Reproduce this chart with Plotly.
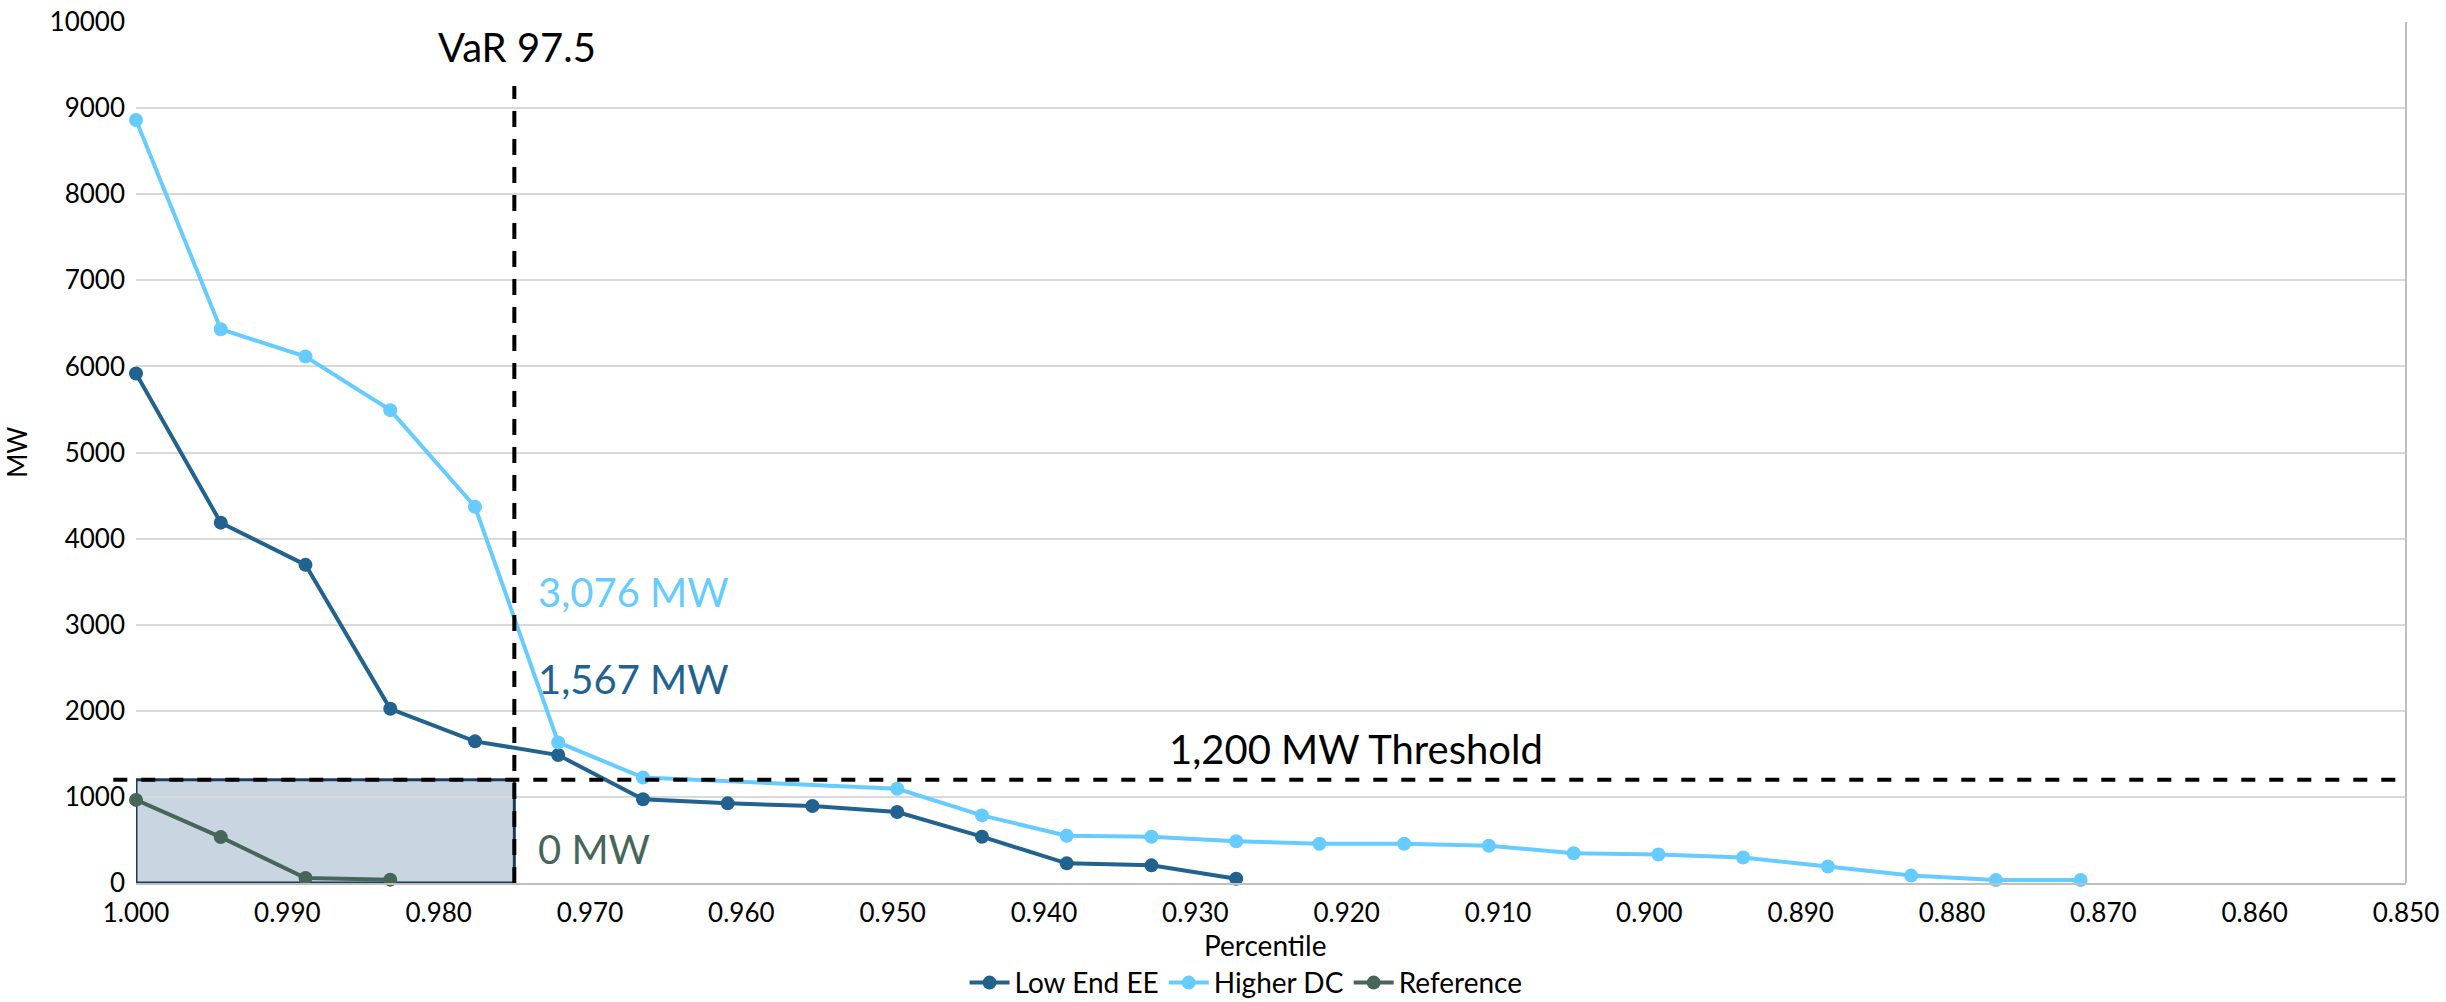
import plotly.graph_objects as go

# Percentile positions of each scenario point (descending)
pct_low_end = [1.0000, 0.9944, 0.9888, 0.9832, 0.9776, 0.9721, 0.9665, 0.9609,
               0.9553, 0.9497, 0.9441, 0.9385, 0.9329, 0.9273]
pct_higher_dc = [1.0000, 0.9944, 0.9888, 0.9832, 0.9776, 0.9721, 0.9665,
                 0.9497, 0.9441, 0.9385, 0.9329, 0.9273, 0.9218, 0.9162,
                 0.9106, 0.9050, 0.8994, 0.8938, 0.8882, 0.8827, 0.8771, 0.8715]
pct_reference = [1.0000, 0.9944, 0.9888, 0.9832]

# Shortfall in MW
mw_low_end = [5917, 4185, 3695, 2023, 1645, 1486, 972, 925, 894, 824, 538, 228, 205, 50]
mw_higher_dc = [8862, 6432, 6115, 5492, 4370, 1633, 1225, 1095, 785, 549, 538, 485,
                455, 455, 432, 346, 331, 296, 191, 86, 35, 35]
mw_reference = [965, 533, 58, 39]

series_names = ["Low End EE", "Higher DC", "Reference"]
series_colors = ["#22628F", "#66CCFF", "#46665A"]

var_level = 0.975
threshold_mw = 1200
# Value of each scenario at the VaR level
var_labels = {"Higher DC": "3,076 MW", "Low End EE": "1,567 MW", "Reference": "0 MW"}
var_label_y = {"Higher DC": 3377, "Low End EE": 2371, "Reference": 398}

FONT = "Lato, 'Open Sans', sans-serif"

fig = go.Figure()
for name, xs, ys, color in zip(series_names,
                               [pct_low_end, pct_higher_dc, pct_reference],
                               [mw_low_end, mw_higher_dc, mw_reference],
                               series_colors):
    fig.add_trace(go.Scatter(
        x=xs, y=ys, name=name, mode="lines+markers",
        line=dict(color=color, width=4),
        marker=dict(color=color, size=14),
        cliponaxis=False,
    ))

# Shaded tail region up to the VaR level below the threshold
fig.add_shape(type="rect", xref="x", yref="y", x0=1.0, x1=var_level, y0=0, y1=threshold_mw,
              fillcolor="rgba(40,90,140,0.25)", line=dict(color="#1B3A57", width=3),
              layer="below")
# VaR vertical marker
fig.add_shape(type="line", xref="x", yref="y", x0=var_level, x1=var_level, y0=0, y1=9257,
              line=dict(color="black", width=4, dash="16px,12px"))
# Threshold horizontal marker
fig.add_shape(type="line", xref="paper", yref="y", x0=-0.01, x1=0.996,
              y0=threshold_mw, y1=threshold_mw,
              line=dict(color="black", width=4, dash="14px,14px"))
# Plot-area right border
fig.add_shape(type="line", xref="paper", yref="paper", x0=1, x1=1, y0=0, y1=1,
              line=dict(color="#BFBFBF", width=2))

big = dict(family=FONT, size=40)
fig.add_annotation(x=0.9748, y=9710, xref="x", yref="y", text="VaR 97.5", showarrow=False,
                   xanchor="center", yanchor="middle", font=dict(color="black", **big))
fig.add_annotation(x=0.9194, y=1559, xref="x", yref="y", text="1,200 MW Threshold",
                   showarrow=False, xanchor="center", yanchor="middle",
                   font=dict(color="black", **big))
for name, color in zip(series_names, series_colors):
    fig.add_annotation(x=0.9736, y=var_label_y[name], xref="x", yref="y",
                       text=var_labels[name], showarrow=False,
                       xanchor="left", yanchor="middle", font=dict(color=color, **big))

# Axis titles
fig.add_annotation(x=0.4974, y=-0.072, xref="paper", yref="paper", text="Percentile",
                   showarrow=False, xanchor="center", yanchor="middle",
                   font=dict(family=FONT, size=28, color="black"))
fig.add_annotation(x=-0.0525, y=0.5006, xref="paper", yref="paper", text="MW",
                   showarrow=False, textangle=-90, xanchor="center", yanchor="middle",
                   font=dict(family=FONT, size=26, color="black"))

fig.update_xaxes(range=[1.0, 0.85], dtick=0.01, tick0=0.85, tickformat=".3f",
                 showgrid=False, zeroline=False, showline=True, linecolor="#BFBFBF",
                 linewidth=2, ticks="", tickfont=dict(family=FONT, size=26, color="black"),
                 ticklabelstandoff=6)
fig.update_yaxes(range=[0, 10000], dtick=1000, tickformat="d", showgrid=True,
                 gridcolor="#D9D9D9", gridwidth=2, zeroline=False, showline=False,
                 ticks="", tickfont=dict(family=FONT, size=26, color="black"),
                 ticklabelstandoff=10)

fig.update_layout(
    width=2446, height=1002,
    margin=dict(l=136, r=40, t=22, b=119, autoexpand=False),
    plot_bgcolor="white", paper_bgcolor="white",
    font=dict(family=FONT, color="black"),
    showlegend=True,
    legend=dict(orientation="h", x=0.489, y=-0.116, xanchor="center", yanchor="middle",
                font=dict(family=FONT, size=28, color="black"), itemwidth=40,
                bgcolor="rgba(0,0,0,0)"),
)

fig.write_html("out.html")
